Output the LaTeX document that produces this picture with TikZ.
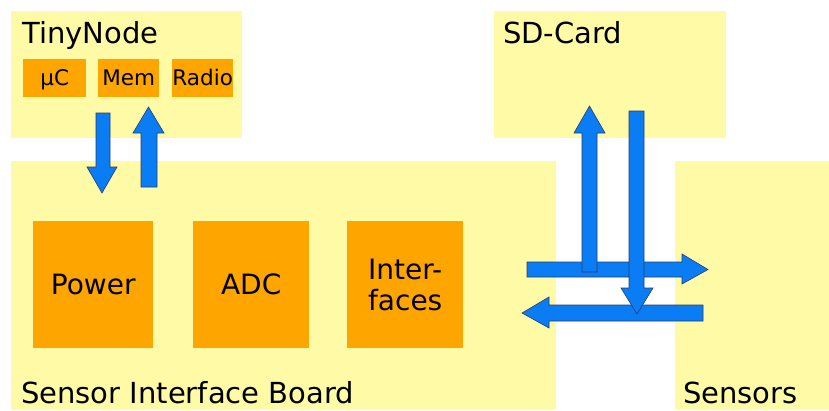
\documentclass[tikz,border=0pt]{standalone}
\usepackage{fontspec}
\setmainfont{DejaVu Sans}
\definecolor{panel}{RGB}{255,250,165}
\definecolor{block}{RGB}{255,165,0}
\definecolor{flow}{RGB}{10,125,245}
\definecolor{flowedge}{RGB}{40,60,110}
\tikzset{
  panelbox/.style={fill=panel, draw=none, anchor=north west, inner sep=0pt},
  blockbox/.style={fill=block, draw=none, anchor=north west, inner sep=0pt, align=center},
  chip/.style={fill=block, draw=none, anchor=north west, inner sep=0pt, text depth=1pt, font=\fontsize{21.5}{23}\selectfont},
  title/.style={anchor=base west, inner sep=0pt, font=\fontsize{29}{31}\selectfont},
  bigtext/.style={font=\fontsize{28}{30}\selectfont},
  flowarrow/.style={fill=flow, draw=flowedge, line width=0.6pt, line join=miter},
}
\begin{document}
\begin{tikzpicture}[x=1pt, y=-1pt]
\useasboundingbox (0,0) rectangle (829,410);

% panels
\node[panelbox, minimum width=231, minimum height=127] (tiny) at (11,11) {};
\node[panelbox, minimum width=232, minimum height=127] (sd) at (494,11) {};
\node[panelbox, minimum width=545, minimum height=249] (sib) at (11,161) {};
\node[panelbox, minimum width=154, minimum height=249] (sens) at (675,161) {};

% panel titles
\node[title] (tinyname) at (22,43) {TinyNode};
\node[title] (sdname) at (503,43) {SD-Card};
\node[title] (sibname) at (21,403) {Sensor Interface Board};
\node[title] (sensname) at (683,403) {Sensors};

% TinyNode parts
\node[chip, minimum width=63, minimum height=38] (uc) at (23,59) {µC};
\node[chip, minimum width=61, minimum height=38] (mem) at (98,59) {Mem};
\node[chip, minimum width=61, minimum height=38] (radio) at (172,59) {Radio};

% board parts
\node[blockbox, bigtext, minimum width=120, minimum height=127] (power) at (33,221) {Power};
\node[blockbox, bigtext, minimum width=116, minimum height=127] (adc) at (193,221) {ADC};
\node[blockbox, bigtext, minimum width=116, minimum height=127] (intf) at (347,221) {Inter-\\[1pt]faces};

% block arrows: horizontal ones first, vertical ones on top
\draw[flowarrow] (527,262) -- (682,262) -- (682,254) -- (708,269.5) -- (682,284) -- (682,277) -- (527,277) -- cycle;
\draw[flowarrow] (703,305) -- (549,305) -- (549,297) -- (522,313) -- (549,328) -- (549,321) -- (703,321) -- cycle;

\draw[flowarrow] (96,113) -- (110,113) -- (110,167) -- (117,167) -- (102,193) -- (87,167) -- (96,167) -- cycle;
\draw[flowarrow] (141,187) -- (157,187) -- (157,133) -- (164,133) -- (148.5,107) -- (133,133) -- (141,133) -- cycle;
\draw[flowarrow] (582,272) -- (597,272) -- (597,133) -- (605,133) -- (589.5,106) -- (574,133) -- (582,133) -- cycle;
\draw[flowarrow] (629,111) -- (644,111) -- (644,288) -- (653,288) -- (637,314) -- (621,288) -- (629,288) -- cycle;
\end{tikzpicture}
\end{document}
